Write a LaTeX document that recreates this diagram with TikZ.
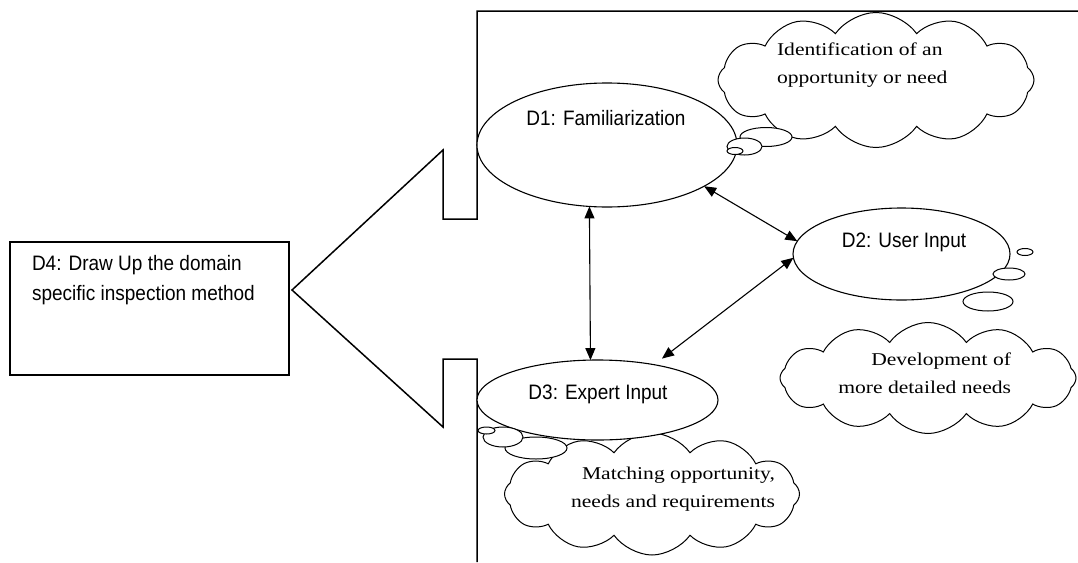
\documentclass[tikz,border=0pt]{standalone}
\usepackage{fontspec}
\setmainfont{Liberation Serif}
\newfontfamily\labelfont{Liberation Sans}
\usetikzlibrary{shapes.geometric,shapes.symbols,arrows.meta}
\newcommand\widetext[1]{\scalebox{1.2}[1]{#1}}
\newcommand\talltext[1]{\scalebox{1}[1.1]{#1}}
\begin{document}
\begin{tikzpicture}[x=1pt,y=-1pt,
  every node/.style={inner sep=0pt, outer sep=0pt},
  stage/.style={ellipse, draw, line width=1.1pt, fill=white},
  bubble/.style={ellipse, draw, line width=1pt, fill=white},
  thought/.style={cloud, draw, line width=1pt, cloud puffs=12, cloud puff arc=110, fill=white},
  stagetext/.style={font=\labelfont\fontsize{19}{30}\selectfont},
  cloudtext/.style={font=\fontsize{18}{28}\selectfont},
  link/.style={{Triangle[length=12pt,width=10pt]}-{Triangle[length=12pt,width=10pt]}, line width=1.1pt}
]
\useasboundingbox (0,0) rectangle (1078,562);
\fill[white] (0,0) rectangle (1078,562);

% frame with the arrow pointing left
\draw[line width=1.5pt, line join=miter]
  (1078,11) -- (477,11) -- (477,219) -- (443,219) -- (443,150) -- (292,290)
  -- (443,427) -- (443,359) -- (477,359) -- (477,562);

% D4 box
\node[draw, line width=1.1pt, minimum width=279pt, minimum height=133pt] (D4) at (149.5,308.5) {};
\node[stagetext, anchor=north west, align=left] (D4t) at (32,255)
  {\talltext{D4: Draw Up the domain}\\\talltext{specific inspection method}};

% clouds
\node[thought, minimum width=316pt, minimum height=135pt] (C1) at (876,80) {};
\node[thought, minimum width=296pt, minimum height=111pt] (C2) at (928,378) {};
\node[thought, minimum width=295pt, minimum height=122pt] (C3) at (652,494) {};

% stages
\node[stage, minimum width=260pt, minimum height=124pt] (D1) at (607,145) {};
\node[stage, minimum width=217pt, minimum height=92pt] (D2) at (901.5,254) {};
\node[stage, minimum width=241pt, minimum height=80pt] (D3) at (597.5,400) {};

\node[stagetext, anchor=base] (D1t) at (606,125) {\talltext{D1: Familiarization}};
\node[stagetext, anchor=base] (D2t) at (904,247) {\talltext{D2: User Input}};
\node[stagetext, anchor=base] (D3t) at (598,399) {\talltext{D3: Expert Input}};

% thought bubbles
\node[bubble, minimum width=52pt, minimum height=19pt] (B1c) at (766,137) {};
\node[bubble, minimum width=35pt, minimum height=17pt] (B1b) at (744.5,146.5) {};
\node[bubble, minimum width=16pt, minimum height=7pt] (B1a) at (735,151) {};

\node[bubble, minimum width=16pt, minimum height=7pt] (B2a) at (1025,252) {};
\node[bubble, minimum width=32pt, minimum height=12pt] (B2b) at (1009,274) {};
\node[bubble, minimum width=50pt, minimum height=19pt] (B2c) at (988,301.5) {};

\node[bubble, minimum width=62pt, minimum height=22pt] (B3c) at (536,448) {};
\node[bubble, minimum width=40pt, minimum height=20pt] (B3b) at (503,437) {};
\node[bubble, minimum width=17pt, minimum height=7pt] (B3a) at (486.5,430.5) {};

% cloud texts
\node[cloudtext, anchor=north west, align=left] (C1t) at (777,43)
  {\widetext{Identification of an}\\\widetext{opportunity or need}};
\node[cloudtext, anchor=north east, align=right] (C2t) at (1011,352.5)
  {\widetext{Development of}\\\widetext{more detailed needs}};
\node[cloudtext, anchor=north east, align=right] (C3t) at (775,467.5)
  {\widetext{Matching opportunity,}\\\widetext{needs and requirements}};

% connectors
\draw[link] (D1.337) -- (D2.173);
\draw[link] (D1.254) -- (D3.100);
\draw[link, shorten >=10pt] (D2.182) -- (D3.32);
\end{tikzpicture}
\end{document}
